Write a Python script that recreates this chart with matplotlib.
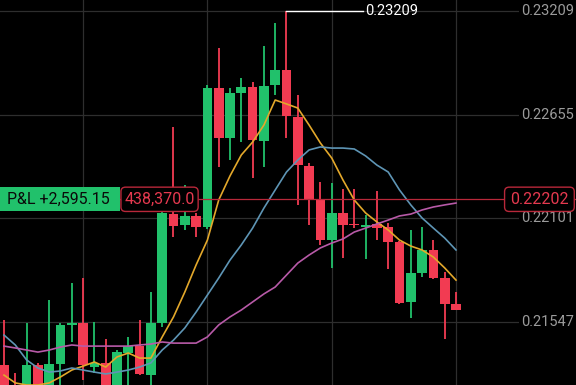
import numpy as np
import matplotlib
matplotlib.use("Agg")
import matplotlib.pyplot as plt
from matplotlib.patches import FancyBboxPatch, Rectangle
from matplotlib.transforms import blended_transform_factory

plt.rcParams['font.family'] = ['Roboto', 'DejaVu Sans']

# OHLC candles
opens = [0.21316, 0.21193, 0.21155, 0.21316, 0.21171, 0.21321, 0.21530, 0.21540, 0.21305, 0.21327,
         0.21171, 0.21380, 0.21417, 0.21262, 0.21540, 0.22123, 0.22064, 0.22113, 0.22054, 0.22797,
         0.22530, 0.22770, 0.22803, 0.22514, 0.22813, 0.22893, 0.22642, 0.22380, 0.22204, 0.21984,
         0.22129, 0.22070, 0.22054, 0.22070, 0.22054, 0.21974, 0.21653, 0.21808, 0.21931, 0.21781,
         0.21642]
highs = [0.21556, 0.21273, 0.21540, 0.21327, 0.21663, 0.21540, 0.21754, 0.21781, 0.21546, 0.21455,
         0.21396, 0.21466, 0.21556, 0.21706, 0.22145, 0.22589, 0.22278, 0.22129, 0.22813, 0.23011,
         0.22797, 0.22851, 0.22829, 0.23022, 0.23145, 0.23209, 0.22760, 0.22396, 0.22295, 0.22289,
         0.22257, 0.22257, 0.22118, 0.22246, 0.22075, 0.21980, 0.22038, 0.22054, 0.21984, 0.21813,
         0.21706]
lows = [0.21139, 0.21139, 0.21139, 0.21139, 0.21150, 0.21182, 0.21439, 0.21236, 0.21273, 0.21139,
        0.21150, 0.21182, 0.21262, 0.21193, 0.21519, 0.22000, 0.22038, 0.22000, 0.22043, 0.22375,
        0.22412, 0.22508, 0.22316, 0.22375, 0.22760, 0.22530, 0.22172, 0.22064, 0.21958, 0.21835,
        0.21888, 0.22048, 0.21883, 0.21984, 0.21829, 0.21642, 0.21567, 0.21786, 0.21776, 0.21455,
        0.21610]
closes = [0.21171, 0.21155, 0.21316, 0.21155, 0.21321, 0.21530, 0.21540, 0.21316, 0.21327, 0.21171,
          0.21385, 0.21417, 0.21268, 0.21540, 0.22129, 0.22059, 0.22113, 0.22054, 0.22797, 0.22530,
          0.22770, 0.22803, 0.22519, 0.22808, 0.22893, 0.22647, 0.22385, 0.22204, 0.21984, 0.22129,
          0.22064, 0.22062, 0.22059, 0.22048, 0.21974, 0.21647, 0.21808, 0.21931, 0.21781, 0.21642,
          0.21610]

# moving averages
ma_fast = [0.21262, 0.21220, 0.21209, 0.21209, 0.21220, 0.21252, 0.21289, 0.21310, 0.21332, 0.21305,
           0.21359, 0.21380, 0.21353, 0.21353, 0.21466, 0.21573, 0.21706, 0.21851, 0.21984, 0.22198,
           0.22327, 0.22439, 0.22508, 0.22599, 0.22733, 0.22712, 0.22690, 0.22599, 0.22503, 0.22423,
           0.22305, 0.22198, 0.22129, 0.22081, 0.22038, 0.21984, 0.21952, 0.21931, 0.21893, 0.21835,
           0.21770]
ma_mid = [0.21476, 0.21423, 0.21343, 0.21300, 0.21278, 0.21284, 0.21300, 0.21289, 0.21278, 0.21268,
          0.21278, 0.21289, 0.21305, 0.21327, 0.21396, 0.21449, 0.21514, 0.21599, 0.21690, 0.21781,
          0.21877, 0.21958, 0.22048, 0.22155, 0.22252, 0.22348, 0.22412, 0.22466, 0.22482, 0.22476,
          0.22476, 0.22471, 0.22434, 0.22385, 0.22348, 0.22252, 0.22172, 0.22102, 0.22048, 0.21995,
          0.21931]
ma_slow = [0.21417, 0.21407, 0.21396, 0.21385, 0.21396, 0.21412, 0.21423, 0.21417, 0.21417, 0.21417,
           0.21417, 0.21417, 0.21423, 0.21428, 0.21439, 0.21433, 0.21433, 0.21433, 0.21466, 0.21530,
           0.21573, 0.21610, 0.21653, 0.21696, 0.21733, 0.21797, 0.21861, 0.21904, 0.21942, 0.21968,
           0.21990, 0.22027, 0.22048, 0.22070, 0.22091, 0.22113, 0.22123, 0.22145, 0.22161, 0.22172,
           0.22182]

price_ticks = [0.23209, 0.22655, 0.22101, 0.21547]
entry_price = 0.22202
pnl_text = "P&L +2,595.15"
size_text = "438,370.0"
vgrid_idx = [7, 18, 29, 40]

green = '#21c16b'
red = '#f23b52'

fig = plt.figure(figsize=(5.76, 3.85), dpi=100, facecolor='black')
ax = fig.add_axes([0, 0, 1, 1])
ax.set_facecolor('black')
ax.set_xlim(-0.354, 50.62)
ax.set_ylim(0.21209, 0.232678)
for s in ax.spines.values():
    s.set_visible(False)
ax.set_xticks(vgrid_idx)
ax.set_yticks(price_ticks)
ax.tick_params(length=0, labelbottom=False, labelleft=False)
ax.grid(True, color='#2e2e2e', lw=0.9, zorder=0)
ax.set_axisbelow(True)

x = np.arange(len(opens))
o = np.array(opens); c = np.array(closes)
col = np.where(c >= o, green, red)
ax.vlines(x, lows, highs, colors=col, lw=1.3, zorder=2)
bottom = np.minimum(o, c)
height = np.maximum(np.abs(c - o), 0.00008)
ax.bar(x, height, bottom=bottom, width=0.86, color=col, zorder=3)

ax.plot(x, ma_fast, color='#e3a82b', lw=1.2, zorder=4)
ax.plot(x, ma_mid, color='#5e95b5', lw=1.2, zorder=4)
ax.plot(x, ma_slow, color='#b85aa8', lw=1.2, zorder=4)

# high marker
imax = int(np.argmax(highs))
ax.plot([imax, 31.8], [highs[imax], highs[imax]], color='white', lw=1.0, zorder=5)
ax.text(32.0, highs[imax], f"{highs[imax]:.5f}", color='white', fontsize=10.5,
        va='center', ha='left', zorder=6)

# right price labels
tr = blended_transform_factory(ax.transAxes, ax.transData)
for p in price_ticks:
    ax.text(0.997, p, f"{p:.5f}", transform=tr, color='#9b9b9b', fontsize=10.5,
            ha='right', va='center', zorder=6,
            bbox=dict(boxstyle='square,pad=0.15', fc='black', ec='none'))

# entry line and boxes
ax.axhline(entry_price, color='#b8283a', lw=0.9, zorder=5)
bh = 0.00130
ax.add_patch(Rectangle((0, entry_price - bh / 2), 0.2083, bh, transform=tr,
                       fc=green, ec='none', zorder=7))
ax.text(0.012, entry_price, pnl_text, transform=tr, color='#0a0a0a', fontsize=11.5,
        ha='left', va='center', zorder=8)
ax.add_patch(FancyBboxPatch((0.2100, entry_price - bh / 2), 0.1340, bh, transform=tr,
                            boxstyle='round,pad=0,rounding_size=0.008',
                            fc='black', ec='#b8283a', lw=1.0, zorder=7,
                            mutation_aspect=0.00130 / 0.0435))
ax.text(0.2770, entry_price, size_text, transform=tr, color='#e5394f', fontsize=11.5,
        ha='center', va='center', zorder=8)
ax.add_patch(FancyBboxPatch((0.876, entry_price - bh / 2), 0.121, bh, transform=tr,
                            boxstyle='round,pad=0,rounding_size=0.008',
                            fc='black', ec='#b8283a', lw=1.0, zorder=7,
                            mutation_aspect=0.00130 / 0.0435))
ax.text(0.9365, entry_price, f"{entry_price:.5f}", transform=tr, color='#e5394f',
        fontsize=11.5, ha='center', va='center', zorder=8)

fig.savefig('out.png', dpi=100, facecolor='black')
